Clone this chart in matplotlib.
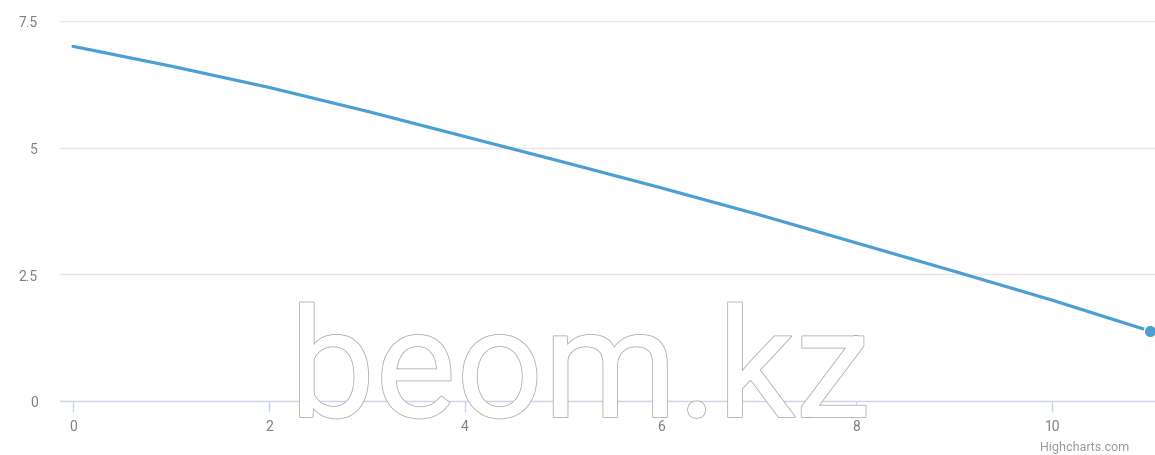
import matplotlib.pyplot as plt
import matplotlib.patheffects as pe

# data
x_vals = [0, 1, 2, 3, 4, 5, 6, 7, 8, 9, 10, 11]
y_vals = [7.0, 6.61, 6.19, 5.72, 5.22, 4.72, 4.21, 3.68, 3.12, 2.56, 1.99, 1.38]
x_ticks = [0, 2, 4, 6, 8, 10]
y_ticks = [0, 2.5, 5, 7.5]
y_tick_labels = ["0", "2.5", "5", "7.5"]

LINE = "#4c9fd4"
W, H = 1155, 456

plt.rcParams["font.family"] = ["Roboto", "DejaVu Sans"]

fig = plt.figure(figsize=(W / 100, H / 100), dpi=100)
ax = fig.add_axes([60 / W, (H - 402) / H, (W - 60) / W, 380 / H])

# ── gridlines / axis ─────────────────────────────────────────────
ax.set_xlim(-0.133, 11.05)
ax.set_ylim(0, 7.5)
ax.set_yticks(y_ticks)
ax.set_yticklabels(y_tick_labels)
ax.set_xticks(x_ticks)
ax.grid(axis="y", color="#e6e6e6", linewidth=1)
ax.set_axisbelow(True)
for side in ["top", "right", "left"]:
    ax.spines[side].set_visible(False)
ax.spines["bottom"].set_color("#ccd6eb")
ax.spines["bottom"].set_linewidth(1)
ax.tick_params(axis="y", length=0, pad=16, labelsize=10, labelcolor="#808080")
ax.tick_params(axis="x", length=8, width=1, color="#ccd6eb", pad=5,
               labelsize=10, labelcolor="#808080")

# ── series ───────────────────────────────────────────────────────
ax.plot(x_vals, y_vals, color=LINE, linewidth=2.3, solid_capstyle="round", zorder=3)
ax.plot(x_vals[-1:], y_vals[-1:], "o", color=LINE, markersize=9,
        markeredgecolor="white", markeredgewidth=1, clip_on=False, zorder=4)

# ── watermark + credit ───────────────────────────────────────────
fig.text(580 / W, 1 - 418 / H, "beom.kz", ha="center", va="baseline",
         fontsize=110, color="white", family=["Roboto", "DejaVu Sans"],
         zorder=0,
         path_effects=[pe.Stroke(linewidth=1.2, foreground="#adadad"), pe.Normal()])
fig.text(1040 / W, 1 - 451 / H, "Highcharts.com", ha="left", va="baseline",
         fontsize=9, color="#999999")

fig.savefig("out.png", dpi=100)
